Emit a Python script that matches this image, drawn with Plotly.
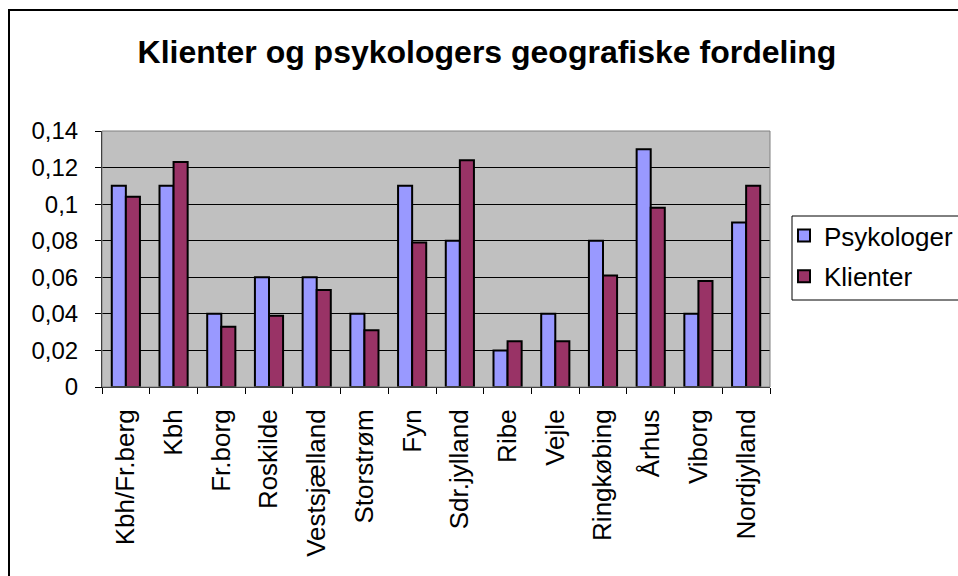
import plotly.graph_objects as go

categories = ["Kbh/Fr.berg", "Kbh", "Fr.borg", "Roskilde", "Vestsjælland", "Storstrøm",
              "Fyn", "Sdr.jylland", "Ribe", "Vejle", "Ringkøbing", "Århus", "Viborg", "Nordjylland"]
psykologer = [0.11, 0.11, 0.04, 0.06, 0.06, 0.04, 0.11, 0.08, 0.02, 0.04, 0.08, 0.13, 0.04, 0.09]
klienter = [0.104, 0.123, 0.033, 0.039, 0.053, 0.031, 0.079, 0.124, 0.025, 0.025, 0.061, 0.098, 0.058, 0.110]
y_tickvals = [0, 0.02, 0.04, 0.06, 0.08, 0.10, 0.12, 0.14]
y_ticktext = ["0", "0,02", "0,04", "0,06", "0,08", "0,1", "0,12", "0,14"]

W, H = 958, 576
L, R, T, B = 102, 188, 131, 189
pw, ph = W - L - R, H - T - B

def px_x(p):
    return (p - L) / pw

def px_y(p):
    return (H - B - p) / ph

fig = go.Figure()
fig.add_trace(go.Bar(x=categories, y=psykologer, name="Psykologer", legendgroup="a",
                     marker=dict(color="#9999FF", line=dict(color="black", width=2))))
fig.add_trace(go.Bar(x=categories, y=klienter, name="Klienter", legendgroup="b",
                     marker=dict(color="#993366", line=dict(color="black", width=2))))

fig.update_layout(
    width=W, height=H,
    margin=dict(l=L, r=R, t=T, b=B, autoexpand=False),
    paper_bgcolor="white",
    plot_bgcolor="#C0C0C0",
    barmode="group",
    bargap=0.41,
    bargroupgap=0,
    font=dict(family="Arial, Liberation Sans, sans-serif", size=24, color="black"),
    title=dict(text="<b>Klienter og psykologers geografiske fordeling</b>",
               x=487 / W, xanchor="center",
               y=1 - 52 / H, yanchor="middle",
               font=dict(size=32, color="black")),
    legend=dict(x=px_x(784), y=px_y(212), xanchor="left", yanchor="top",
                borderwidth=0, bgcolor="rgba(0,0,0,0)",
                font=dict(size=26), itemwidth=30, tracegroupgap=4),
    xaxis=dict(tickangle=-90, showgrid=False, showline=True, linecolor="black",
               linewidth=1, ticks="outside", tickson="boundaries", ticklen=6,
               tickcolor="black", mirror=False, tickfont=dict(size=26),
               ticklabelstandoff=11),
    yaxis=dict(range=[0, 0.14], tickvals=y_tickvals, ticktext=y_ticktext,
               showgrid=True, gridcolor="black", gridwidth=1,
               showline=True, linecolor="black", linewidth=1,
               ticks="outside", ticklen=6, tickcolor="black", zeroline=False,
               ticklabelstandoff=12),
    shapes=[
        dict(type="rect", xref="paper", yref="paper", x0=0, x1=1, y0=0, y1=1,
             line=dict(color="#808080", width=1), fillcolor="rgba(0,0,0,0)", layer="above"),
        dict(type="rect", xref="paper", yref="paper",
             x0=px_x(9), x1=px_x(W + 5), y0=px_y(H + 5), y1=px_y(10),
             line=dict(color="black", width=2), fillcolor="rgba(0,0,0,0)"),
        dict(type="rect", xref="paper", yref="paper",
             x0=px_x(792), x1=px_x(W + 5), y0=px_y(300), y1=px_y(216),
             line=dict(color="black", width=1), fillcolor="white", layer="below"),
    ],
)

fig.write_html("out.html", post_script="document.body.style.margin='0';",
               config={"displayModeBar": False})
